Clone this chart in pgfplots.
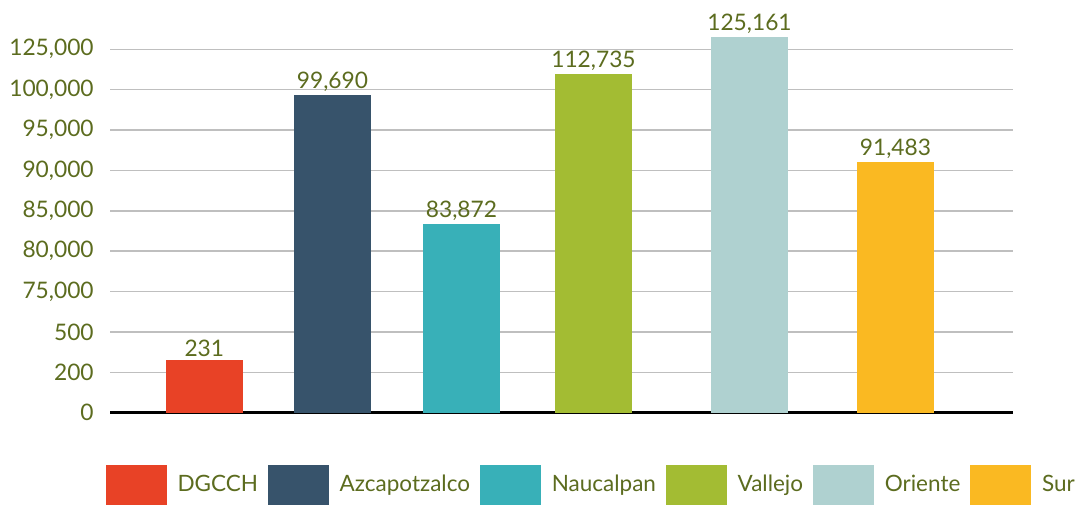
\documentclass[border=0pt]{standalone}
\usepackage{fontspec}
\setmainfont{Lato}
\usepackage{pgfplots}
\pgfplotsset{compat=1.18}
\definecolor{txt}{HTML}{5C6C1F}
\definecolor{cDG}{HTML}{E84226}
\definecolor{cAZ}{HTML}{37536B}
\definecolor{cNA}{HTML}{38B0B8}
\definecolor{cVA}{HTML}{A3BC33}
\definecolor{cOR}{HTML}{AFD1D0}
\definecolor{cSU}{HTML}{FAB922}
\begin{document}
\begin{tikzpicture}[x=1pt,y=1pt]
\path[use as bounding box] (0,0) rectangle (430.8,202);
\begin{axis}[
  at={(44pt,36.92pt)}, anchor=south west,
  scale only axis, x=0.4pt, y=16.152pt,
  xmin=110, xmax=1013, ymin=0, ymax=10.2,
  clip=false,
  axis line style={draw=none},
  xtick=\empty,
  ytick={0,1,2,3,4,5,6,7,8,9},
  yticklabels={0,200,500,{75,000},{80,000},{85,000},{90,000},{95,000},{100,000},{125,000}},
  major tick length=0pt,
  yticklabel style={font=\fontsize{9.1}{10}\selectfont, text=txt, xshift=-3pt},
  ymajorgrids, grid style={color=black!25, line width=0.6pt},
  extra y ticks={0}, extra y tick labels={},
  extra y tick style={grid style={black, line width=1.2pt}},
  ybar, bar width=30.8pt, bar shift=0pt,
  every axis plot/.append style={draw=none},
  point meta=explicit symbolic,
  nodes near coords,
  nodes near coords style={font=\fontsize{9.1}{10}\selectfont, text=txt, inner sep=1.2pt},
  legend columns=6,
  legend style={at={(axis cs:105,-1.79)}, anchor=west, draw=none, inner sep=0pt,
    font=\fontsize{9.0}{10}\selectfont, text=txt,
    /tikz/every odd column/.append style={column sep=2.4pt},
    /tikz/every even column/.append style={column sep=1.9pt}},
  legend image code/.code={\fill[#1] (0pt,-8pt) rectangle (24.4pt,8pt);},
]
\addplot[fill=cDG] coordinates {(204.3,1.305) [231]};
\addlegendentry{DGCCH}
\addplot[fill=cAZ] coordinates {(332.5,7.87) [99,690]};
\addlegendentry{Azcapotzalco}
\addplot[fill=cNA] coordinates {(461.5,4.67) [83,872]};
\addlegendentry{Naucalpan}
\addplot[fill=cVA] coordinates {(593.5,8.39) [112,735]};
\addlegendentry{Vallejo}
\addplot[fill=cOR] coordinates {(749.5,9.30) [125,161]};
\addlegendentry{Oriente}
\addplot[fill=cSU] coordinates {(895.5,6.21) [91,483]};
\addlegendentry{Sur}
\end{axis}
\end{tikzpicture}
\end{document}
